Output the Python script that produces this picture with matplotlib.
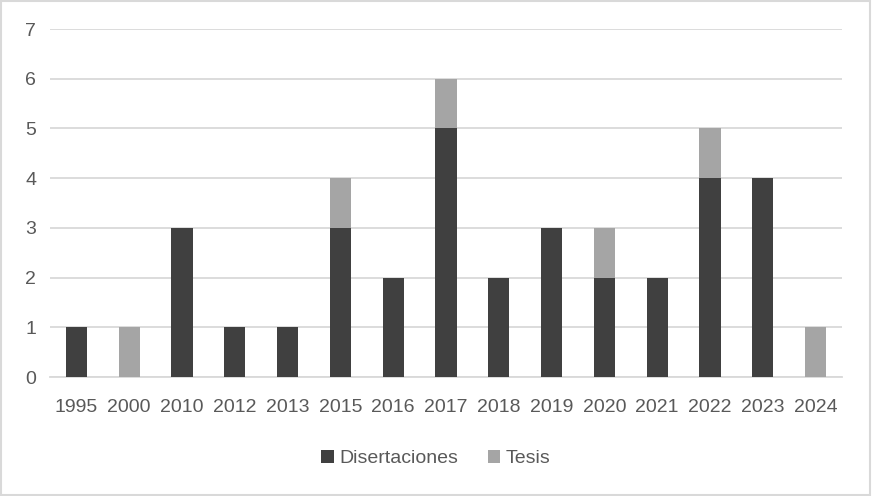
import matplotlib.pyplot as plt
import matplotlib.patches as mpatches
import numpy as np

years = ['1995', '2000', '2010', '2012', '2013', '2015', '2016', '2017',
         '2018', '2019', '2020', '2021', '2022', '2023', '2024']
disertaciones = [1, 0, 3, 1, 1, 3, 2, 5, 2, 3, 2, 2, 4, 4, 0]
tesis = [0, 1, 0, 0, 0, 1, 0, 1, 0, 0, 1, 0, 1, 0, 1]

plt.rcParams['font.family'] = ['Liberation Sans Narrow', 'Liberation Sans', 'DejaVu Sans']
txt = '#595959'

fig = plt.figure(figsize=(8.72, 4.96), dpi=100)
ax = fig.add_axes([0.0573, 0.2399, 0.9083, 0.7016])

x = np.arange(len(years))
w = 0.4
ax.bar(x, disertaciones, width=w, color='#404040', label='Disertaciones', zorder=3)
ax.bar(x, tesis, width=w, bottom=disertaciones, color='#a5a5a5', label='Tesis', zorder=3)

ax.set_xlim(-0.5, len(years) - 0.5)
ax.set_ylim(0, 7)
ax.set_yticks(range(0, 8))
ax.set_xticks(x)
ax.set_xticklabels(years)
ax.grid(axis='y', color='#d9d9d9', linewidth=1.3, zorder=0)
for s in ['top', 'right', 'left']:
    ax.spines[s].set_visible(False)
ax.spines['bottom'].set_color('#d9d9d9')
ax.spines['bottom'].set_linewidth(1.3)
ax.tick_params(axis='both', length=0, labelsize=14, colors=txt)
ax.tick_params(axis='x', pad=16)
ax.tick_params(axis='y', pad=10)

fig.legend(loc='center', bbox_to_anchor=(0.5, 0.075), ncol=2, frameon=False,
           fontsize=14, labelcolor=txt, handlelength=0.65, handleheight=0.65,
           handletextpad=0.3, columnspacing=1.5)

fig.patches.append(mpatches.Rectangle((0.001, 0.002), 0.997, 0.996, transform=fig.transFigure,
                                      fill=False, edgecolor='#d9d9d9', linewidth=1.5))

plt.savefig('out.png', dpi=100)
